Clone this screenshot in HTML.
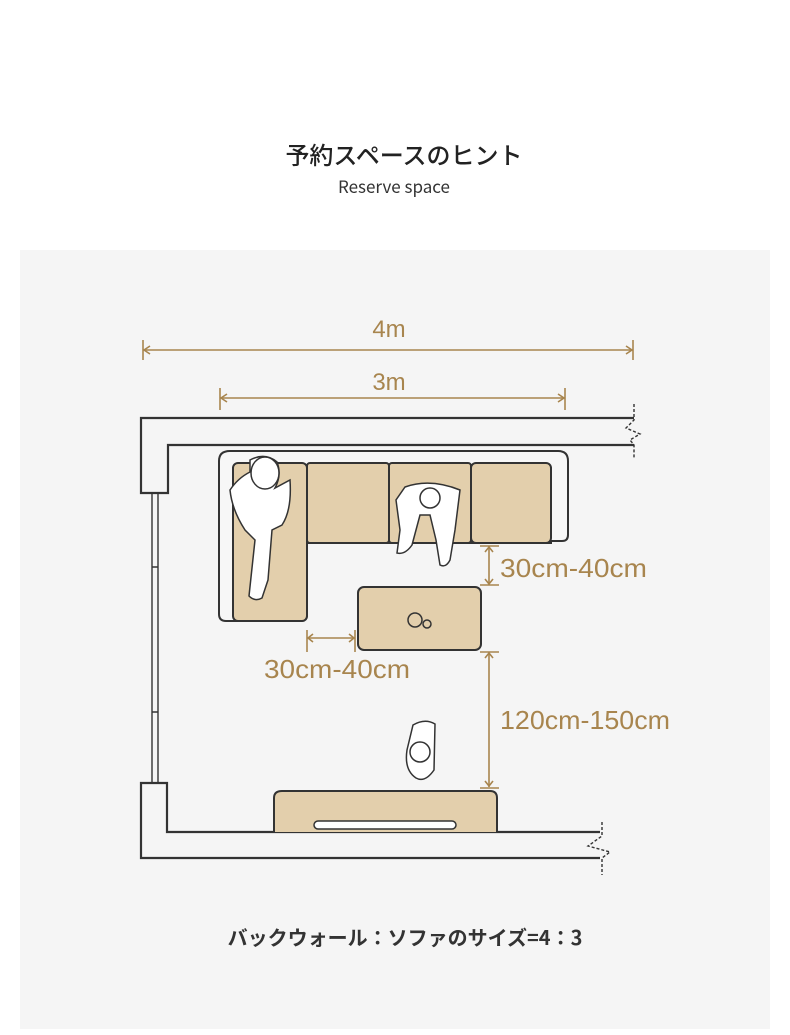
<!DOCTYPE html>
<html><head><meta charset="utf-8"><style>
html,body{margin:0;padding:0;background:#fff;}
body{width:790px;height:1035px;overflow:hidden;position:relative;font-family:"Liberation Sans","Noto Sans CJK JP",sans-serif;}
</style></head><body>
<svg width="790" height="1035" viewBox="0 0 790 1035" xmlns="http://www.w3.org/2000/svg" style="position:absolute;left:0;top:0">
<rect x="20" y="250" width="750" height="779" fill="#f5f5f5"/>
<text x="404" y="164" text-anchor="middle" font-family="'Noto Sans CJK JP',sans-serif" font-size="24" font-weight="500" fill="#222">予約スペースのヒント</text>
<text x="394" y="193" text-anchor="middle" font-family="'Noto Sans CJK JP',sans-serif" font-size="17" fill="#333">Reserve space</text>
<g stroke="#a8854e" stroke-width="1.6" fill="none">
<line x1="143" y1="350" x2="633" y2="350"/><line x1="143" y1="340" x2="143" y2="360"/><line x1="633" y1="340" x2="633" y2="360"/>
<path d="M150 346 L144 350 L150 354 M626 346 L632 350 L626 354"/>
<line x1="220" y1="398" x2="565" y2="398"/><line x1="220" y1="388" x2="220" y2="410"/><line x1="565" y1="388" x2="565" y2="410"/>
<path d="M227 394 L221 398 L227 402 M558 394 L564 398 L558 402"/>
<line x1="489" y1="546" x2="489" y2="585"/><line x1="480" y1="546" x2="499" y2="546"/><line x1="480" y1="585" x2="499" y2="585"/>
<path d="M485 552 L489 547 L493 552 M485 579 L489 584 L493 579"/>
<line x1="307" y1="638" x2="355" y2="638"/><line x1="307" y1="630" x2="307" y2="652"/><line x1="355" y1="630" x2="355" y2="652"/>
<path d="M313 634 L308 638 L313 642 M349 634 L354 638 L349 642"/>
<line x1="489" y1="652" x2="489" y2="787"/><line x1="480" y1="652" x2="499" y2="652"/><line x1="480" y1="788" x2="499" y2="788"/>
<path d="M485 658 L489 653 L493 658 M485 781 L489 786 L493 781"/>
</g>
<g fill="#a8854e" font-size="26">
<text x="389" y="337" text-anchor="middle" font-size="24">4m</text>
<text x="389" y="390" text-anchor="middle" font-size="24">3m</text>
<text x="500" y="577" textLength="147" lengthAdjust="spacingAndGlyphs">30cm-40cm</text>
<text x="264" y="678" textLength="146" lengthAdjust="spacingAndGlyphs">30cm-40cm</text>
<text x="500" y="729" textLength="170" lengthAdjust="spacingAndGlyphs">120cm-150cm</text>
</g>
<g stroke="#333" stroke-width="2.2" fill="none">
<path d="M634 418 L141 418 L141 493 L168 493 L168 445 L634 445"/>
<path d="M634 404 L634 420 L626 428 L640 434 L630 440 L634 445 L634 458" stroke-width="1.4" stroke-dasharray="3 2"/>
<path d="M152 493 V567 H158 V493 M152 567 V712 H158 V567 M152 712 V783 H158 V712" stroke-width="1.4"/>
<path d="M600 832 L167 832 L167 783 L141 783 L141 858 L600 858"/>
<path d="M602 822 L602 836 L588 846 L610 852 L602 858 L602 875" stroke-width="1.4" stroke-dasharray="3 2"/>
</g>
<g stroke="#333" stroke-width="2">
<path d="M230 451 H558 Q568 451 568 461 V535 Q568 541 562 541 H551 V543 H307 V615 Q307 621 300 621 H226 Q219 621 219 614 V461 Q219 451 230 451 Z" fill="#f7f7f7"/>
<rect x="233" y="463" width="74" height="158" rx="5" fill="#e3cfac"/>
<rect x="307" y="463" width="82" height="80" rx="3" fill="#e3cfac"/>
<rect x="389" y="463" width="82" height="80" rx="3" fill="#e3cfac"/>
<rect x="471" y="463" width="80" height="80" rx="5" fill="#e3cfac"/>
<rect x="358" y="587" width="123" height="63" rx="6" fill="#e3cfac"/>
<path d="M274 832 V798 Q274 791 282 791 H490 Q497 791 497 798 V832" fill="#e3cfac"/>
</g>
<g stroke="#333" stroke-width="1.5" fill="#fff">
<circle cx="415" cy="620" r="7" fill="none"/><circle cx="427" cy="624" r="4" fill="none"/>
<rect x="314" y="821" width="142" height="8" rx="4"/>
<path d="M250 460 Q265 452 277 462 Q282 475 275 488 L290 480 Q292 510 282 525 L272 530 L268 580 L262 598 Q255 602 249 596 L255 540 L245 530 Q232 510 230 490 Q238 478 250 472 Z"/>
<ellipse cx="265" cy="473" rx="14" ry="16"/>
<path d="M405 487 Q430 478 460 490 L455 530 L450 560 Q446 568 440 565 L436 540 L430 515 L420 515 L412 545 Q405 555 397 553 L400 530 L396 500 Z"/>
<circle cx="430" cy="498" r="10"/>
<path d="M413 725 Q425 718 435 724 L434 770 Q425 783 416 778 Q404 770 407 750 Z"/>
<circle cx="420" cy="752" r="10"/>
</g>
<text x="405" y="945" text-anchor="middle" font-family="'Noto Sans CJK JP',sans-serif" font-size="20" font-weight="700" fill="#333">バックウォール：ソファのサイズ=4：3</text>
</svg>
</body></html>
